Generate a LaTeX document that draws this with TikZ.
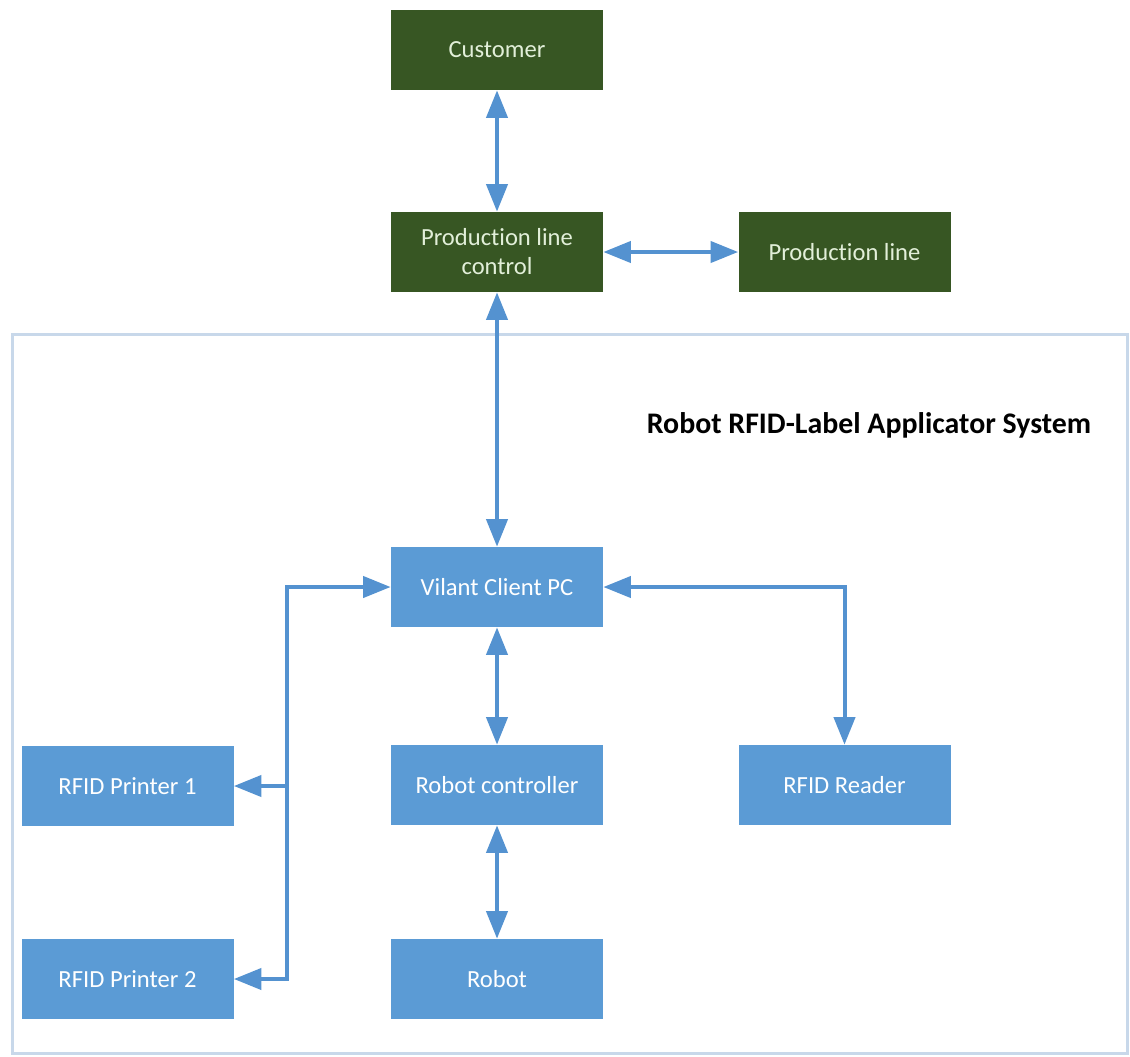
\documentclass[tikz,border=0pt]{standalone}
\usepackage{fontspec}
\setmainfont{Carlito}[Ligatures=NoCommon]
\usetikzlibrary{arrows.meta}

\definecolor{boxgreen}{RGB}{55,86,35}
\definecolor{boxblue}{RGB}{91,155,213}
\definecolor{linkblue}{RGB}{84,146,208}
\definecolor{framegray}{RGB}{200,216,234}
\definecolor{paletext}{RGB}{226,239,217}

\def\tip{Triangle[length=0.55cm,width=0.42cm]}

\tikzset{
  box/.style={rectangle, minimum width=4.24cm, minimum height=1.6cm, align=center,
    font=\fontsize{14}{16.5}\selectfont, inner sep=2pt},
  greenbox/.style={box, fill=boxgreen, text=paletext},
  bluebox/.style={box, fill=boxblue, text=white},
  link/.style={draw=linkblue, line width=0.08cm, {\tip}-{\tip}},
  onelink/.style={draw=linkblue, line width=0.08cm, -{\tip}}
}

\begin{document}
\begin{tikzpicture}
\useasboundingbox (0,0) rectangle (22.6,-21.12);

% system frame
\draw[framegray, line width=0.06cm] (0.26,-6.68) rectangle (22.54,-21.06);
\node[font=\fontsize{17}{20}\selectfont\bfseries] (title) at (17.38,-8.5) {Robot RFID-Label Applicator System};

\node[greenbox] (customer) at (9.94,-1.0) {Customer};
\node[greenbox] (plc) at (9.94,-5.04) {Production line\\control};
\node[greenbox] (pline) at (16.89,-5.04) {Production line};

\node[bluebox] (pc) at (9.94,-11.74) {Vilant Client PC};
\node[bluebox] (rc) at (9.94,-15.7) {Robot controller};
\node[bluebox] (reader) at (16.89,-15.7) {RFID Reader};
\node[bluebox] (robot) at (9.94,-19.58) {Robot};
\node[bluebox] (printer1) at (2.55,-15.72) {RFID Printer 1};
\node[bluebox] (printer2) at (2.55,-19.58) {RFID Printer 2};

\coordinate (bustop) at (5.74,-11.74);

\draw[link] (customer) -- (plc);
\draw[link] (plc) -- (pline);
\draw[link] (plc) -- (pc);
\draw[link] (pc) -- (rc);
\draw[link] (rc) -- (robot);
\draw[link] (pc.east) -| (reader.north);
\draw[link] (printer2.east) -| (bustop) -- (pc.west);
\draw[onelink] (bustop |- printer1.east) -- (printer1.east);
\end{tikzpicture}
\end{document}
